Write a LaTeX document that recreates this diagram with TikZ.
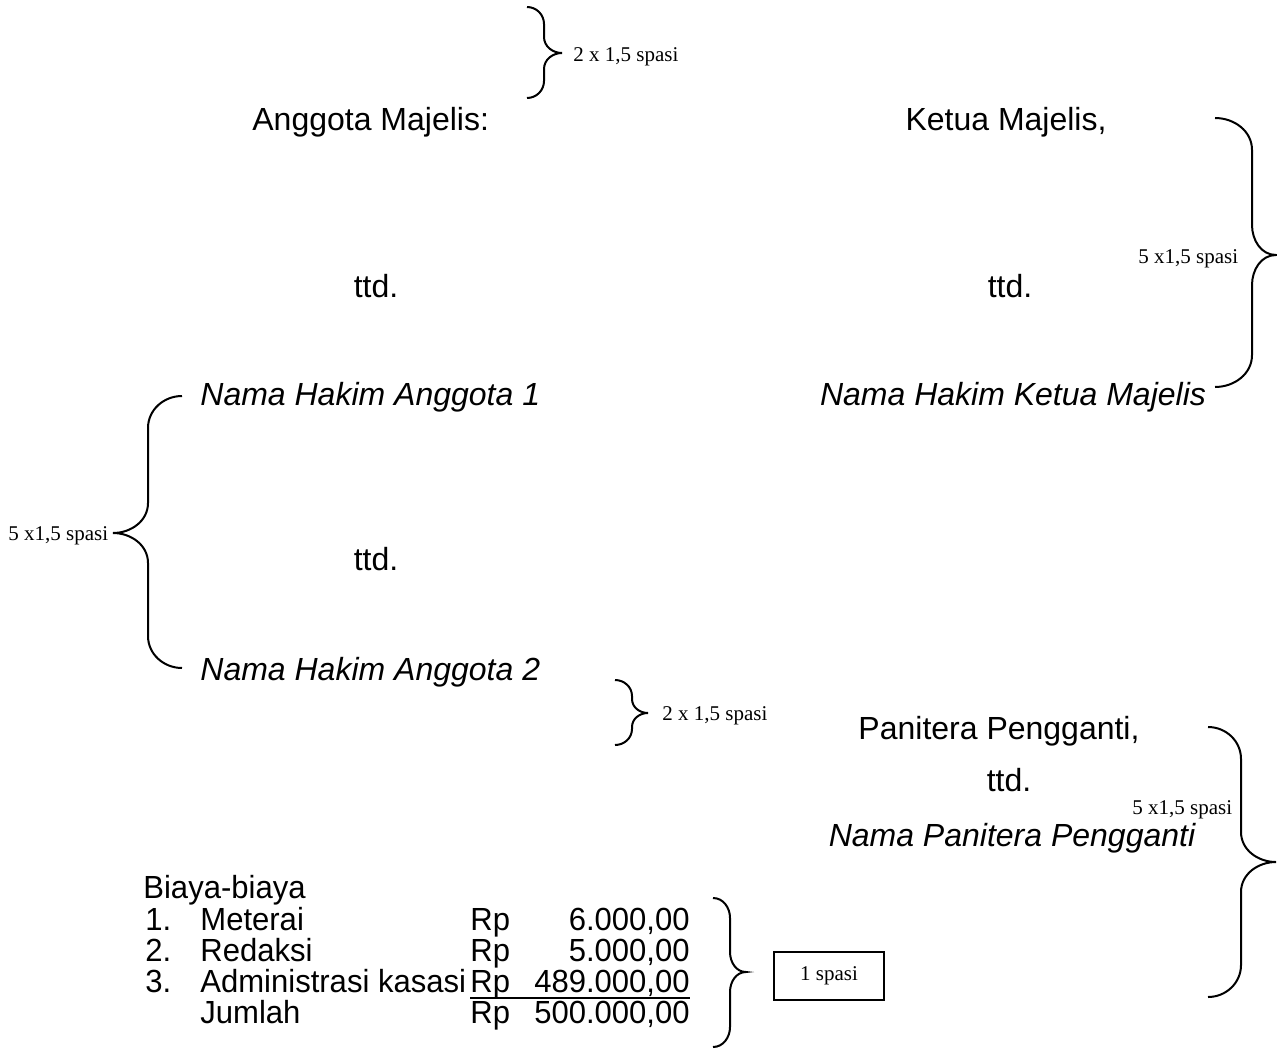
\documentclass[tikz,border=0pt]{standalone}
\usepackage{fontspec}
\setmainfont{Liberation Sans}
\newfontfamily\spasifont{Liberation Serif}
\newfontfamily\listfont[FakeStretch=0.97]{Liberation Sans}

\begin{document}
\begin{tikzpicture}
[x=0.5pt,y=-0.5pt
,txt/.style={inner sep=0pt,font=\fontsize{16}{19}\selectfont}
,nama/.style={inner sep=0pt,font=\fontsize{16}{19}\selectfont\itshape}
,lst/.style={inner sep=0pt,font=\listfont\fontsize{16}{19}\selectfont}
,sp/.style={inner sep=0pt,font=\spasifont\fontsize{10.5}{12}\selectfont}
,kotak/.style={sp,draw,line width=0.75pt,minimum width=55pt,minimum height=24pt}
,br/.style={draw=black,line width=1pt}]
\useasboundingbox (0,0) rectangle (1277,1059);
% tanda tangan majelis
\node[txt,anchor=base west] (anggota) at (252,131) {Anggota Majelis:};
\node[txt,anchor=base] (ketua) at (1006,131) {Ketua Majelis,};
\node[txt,anchor=base] (ttda1) at (376,297) {ttd.};
\node[txt,anchor=base] (ttdk) at (1010,297) {ttd.};
\node[nama,anchor=base west] (hakim1) at (200,405) {Nama Hakim Anggota 1};
\node[nama,anchor=base] (hakimk) at (1013,405) {Nama Hakim Ketua Majelis};
\node[txt,anchor=base] (ttda2) at (376,570) {ttd.};
\node[nama,anchor=base west] (hakim2) at (200,680) {Nama Hakim Anggota 2};
% panitera
\node[txt,anchor=base] (panitera) at (999,739) {Panitera Pengganti,};
\node[txt,anchor=base] (ttdp) at (1009,791) {ttd.};
\node[nama,anchor=base] (namapp) at (1012,846) {Nama Panitera Pengganti};
% biaya
\node[lst,anchor=base west] (biaya) at (143,898) {Biaya-biaya};
\node[lst,anchor=base west] (no1) at (145,930) {1.};
\node[lst,anchor=base west] (no2) at (145,961) {2.};
\node[lst,anchor=base west] (no3) at (145,992) {3.};
\node[lst,anchor=base west] (pos1) at (200,930) {Meterai};
\node[lst,anchor=base west] (pos2) at (200,961) {Redaksi};
\node[lst,anchor=base west] (pos3) at (200,992) {Administrasi kasasi};
\node[lst,anchor=base west] (jumlah) at (200,1023) {Jumlah};
\node[lst,anchor=base west] (rp1) at (470,930) {Rp};
\node[lst,anchor=base west] (rp2) at (470,961) {Rp};
\node[lst,anchor=base west] (rp3) at (470,992) {Rp};
\node[lst,anchor=base west] (rp4) at (470,1023) {Rp};
\node[lst,anchor=base east] (nilai1) at (690,930) {6.000,00};
\node[lst,anchor=base east] (nilai2) at (690,961) {5.000,00};
\node[lst,anchor=base east] (nilai3) at (690,992) {489.000,00};
\node[lst,anchor=base east] (nilai4) at (690,1023) {500.000,00};
\draw[line width=1pt] ([yshift=-3pt]rp3.base west) -- ([yshift=-3pt]nilai3.base east);
% keterangan spasi
\node[sp,anchor=base west] (spasi1) at (573,62) {2 x 1,5 spasi};
\node[sp,anchor=base west] (spasi2) at (1138,263) {5 x1,5 spasi};
\node[sp,anchor=base west] (spasi3) at (8,540) {5 x1,5 spasi};
\node[sp,anchor=base west] (spasi4) at (662,720) {2 x 1,5 spasi};
\node[sp,anchor=base west] (spasi5) at (1132,814) {5 x1,5 spasi};
\node[kotak] (spasi6) at (829,976) {1 spasi};
% kurung kurawal
\draw[br] (527,7) to[out=0,in=90] (544,24) -- (544,37) to[out=-90,in=180] (562,53)
  to[out=180,in=90] (544,69) -- (544,81) to[out=-90,in=0] (527,98);
\draw[br] (1215,118) to[out=0,in=90] (1252,150) -- (1252,225) to[out=-90,in=180] (1276,255)
  to[out=180,in=90] (1252,285) -- (1252,355) to[out=-90,in=0] (1215,387);
\draw[br] (182,396) to[out=180,in=90] (148,428) -- (148,503) to[out=-90,in=0] (113,533)
  to[out=0,in=90] (148,563) -- (148,636) to[out=-90,in=180] (182,668);
\draw[br] (615,680) to[out=0,in=90] (632,696) -- (632,699) to[out=-90,in=180] (648,713)
  to[out=180,in=90] (632,727) -- (632,729) to[out=-90,in=0] (615,745);
\draw[br] (1208,727) to[out=0,in=90] (1241,759) -- (1241,832) to[out=-90,in=180] (1276,862)
  to[out=180,in=90] (1241,892) -- (1241,965) to[out=-90,in=0] (1208,997);
\draw[br] (713,898) to[out=0,in=90] (730,918) -- (730,952) to[out=-90,in=180] (746,972)
  to[out=180,in=90] (730,992) -- (730,1027) to[out=-90,in=0] (713,1047);
\end{tikzpicture}
\end{document}
